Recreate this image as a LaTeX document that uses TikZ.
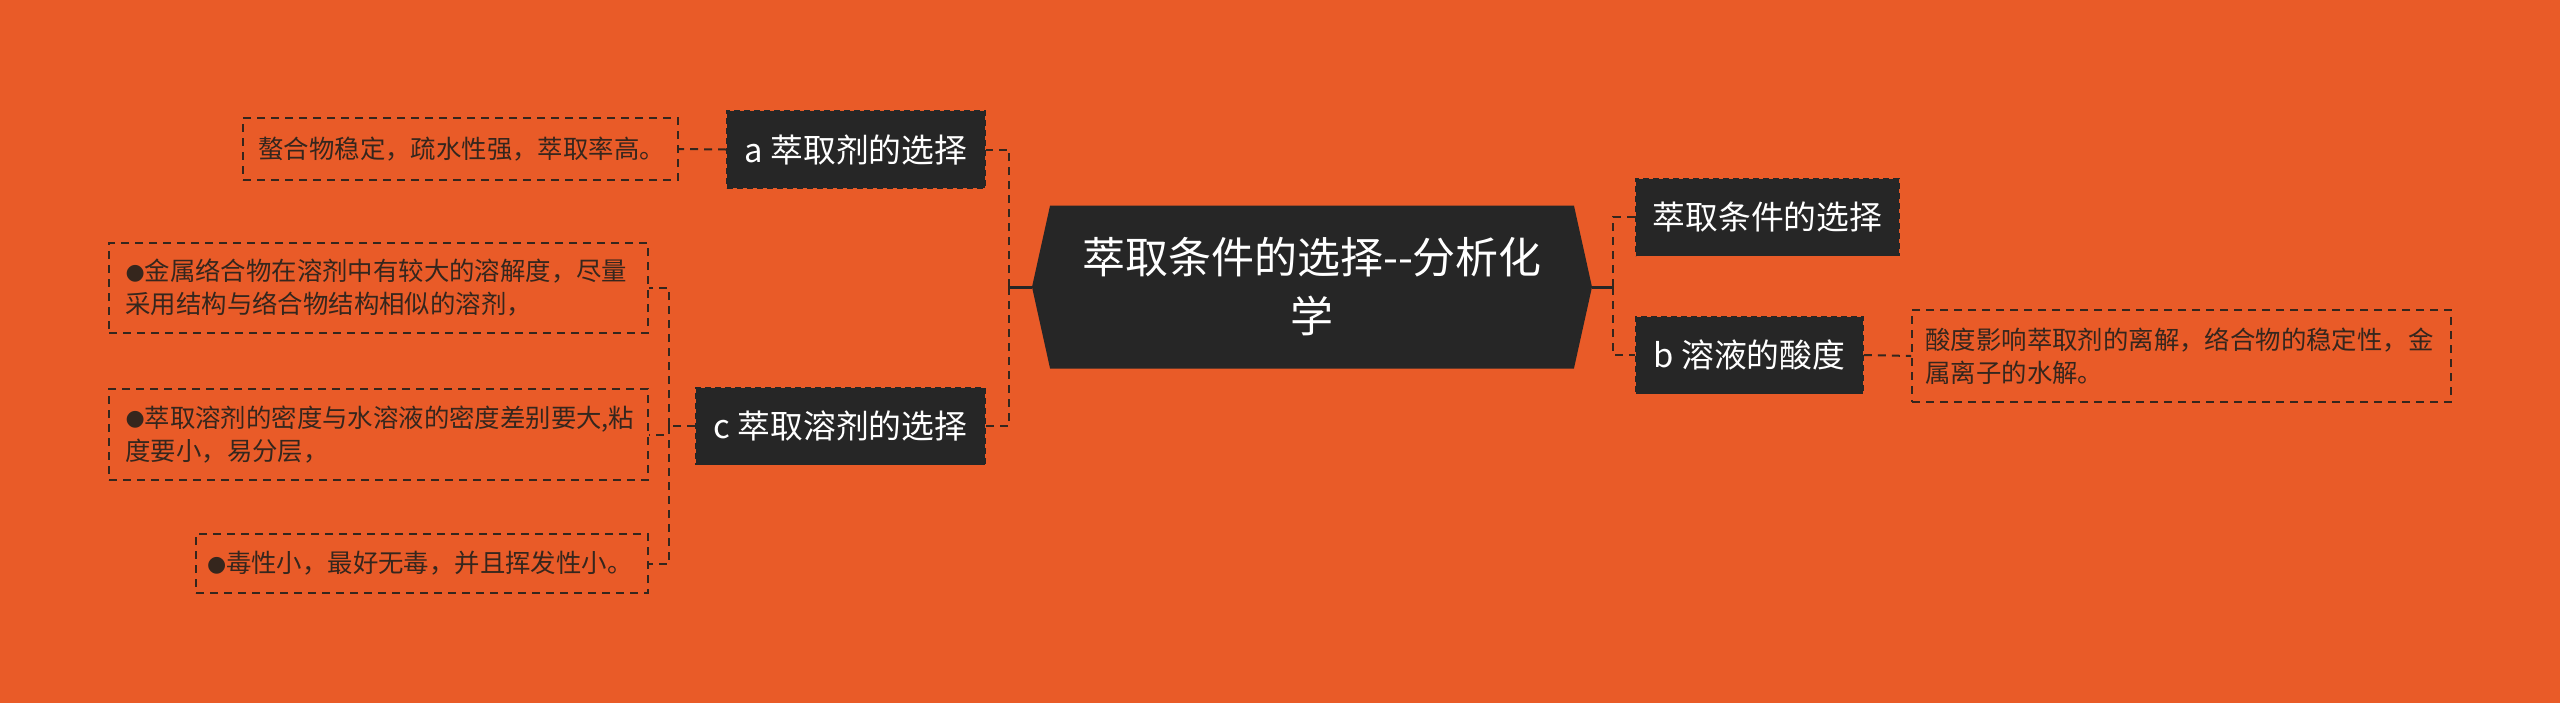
\documentclass[tikz,border=0pt]{standalone}
\usepackage{fontspec}
\setmainfont{Noto Sans CJK SC}
\newfontfamily\symfont{DejaVu Sans}
\usetikzlibrary{shapes.symbols}
\definecolor{bgorange}{HTML}{E95B28}
\definecolor{boxdark}{HTML}{262626}
\definecolor{inkdark}{HTML}{35261D}
\newcommand{\notebullet}{{\symfont\fontsize{11pt}{11pt}\selectfont\raisebox{0.8pt}{●}}}
\tikzset{
  topic/.style={fill=boxdark, draw=black!85, line width=0.8pt, dash pattern=on 3pt off 2pt,
    text=white, font=\fontsize{16.4pt}{20pt}\selectfont, inner xsep=8pt, minimum height=38.5pt},
  note/.style={draw=inkdark, line width=0.9pt, dash pattern=on 4pt off 3pt, text=inkdark,
    font=\fontsize{12.7pt}{16.5pt}\selectfont, align=left},
  link/.style={draw=inkdark, line width=1pt, dash pattern=on 4pt off 3pt},
  stub/.style={draw=boxdark, line width=1.5pt},
}

\begin{document}
\begin{tikzpicture}[x=0.5pt,y=-0.5pt]
    \useasboundingbox (0,0) rectangle (2560,703);
    \fill[bgorange] (0,0) rectangle (2560,703);

    \node[signal, signal to=west and east, signal pointer angle=155, fill=boxdark, text=white,
      minimum width=280pt, minimum height=81.5pt, align=center,
      font=\fontsize{21.5pt}{29.5pt}\selectfont] (root) at (1312,287) {萃取条件的选择-{}-分析化\\学};

    \node[topic, minimum width=131.5pt] (cond) at (1767.5,217) {萃取条件的选择};
    \node[topic, minimum width=113.5pt] (acid) at (1749.5,355) {b 溶液的酸度};
    \node[note, text width=256pt, inner xsep=6.75pt, minimum height=46pt] (acid-note) at (2181.5,356)
      {酸度影响萃取剂的离解，络合物的稳定性，金\\属离子的水解。};

    \node[topic, minimum width=129pt] (agent) at (856,149.5) {a 萃取剂的选择};
    \node[note, text width=202pt, inner xsep=7.75pt, minimum height=31pt] (agent-note) at (460.5,149)
      {螯合物稳定，疏水性强，萃取率高。};

    \node[topic, minimum width=144.5pt] (solv) at (840.5,426) {c 萃取溶剂的选择};
    \node[note, text width=253pt, inner xsep=8.25pt, minimum height=45pt] (solv1) at (378.5,288)
      {\notebullet 金属络合物在溶剂中有较大的溶解度，尽量\\采用结构与络合物结构相似的溶剂，};
    \node[note, text width=253pt, inner xsep=8.25pt, minimum height=45.5pt] (solv2) at (378.5,434.5)
      {\notebullet 萃取溶剂的密度与水溶液的密度差别要大,粘\\度要小，易分层，};
    \node[note, text width=215pt, inner xsep=5.5pt, minimum height=29.5pt] (solv3) at (422,563.5)
      {\notebullet 毒性小，最好无毒，并且挥发性小。};

    \coordinate (jr) at (1613,287);
    \coordinate (jl) at (1009,287);
    \coordinate (jc) at (669,426);

    \draw[stub] (root.east) -- (jr);
    \draw[link] (jr) |- (cond.west);
    \draw[link] (jr) |- (acid.west);
    \draw[link] (acid.east) -- (acid-note.west);

    \draw[stub] (root.west) -- (jl);
    \draw[link] (jl) |- (agent.east);
    \draw[link] (jl) |- (solv.east);
    \draw[link] (agent.west) -- (agent-note.east);

    \draw[link] (solv.west) -- (jc);
    \draw[link] (jc) |- (solv1.east);
    \draw[link] (jc) |- (solv2.east);
    \draw[link] (jc) |- (solv3.east);
\end{tikzpicture}
\end{document}
